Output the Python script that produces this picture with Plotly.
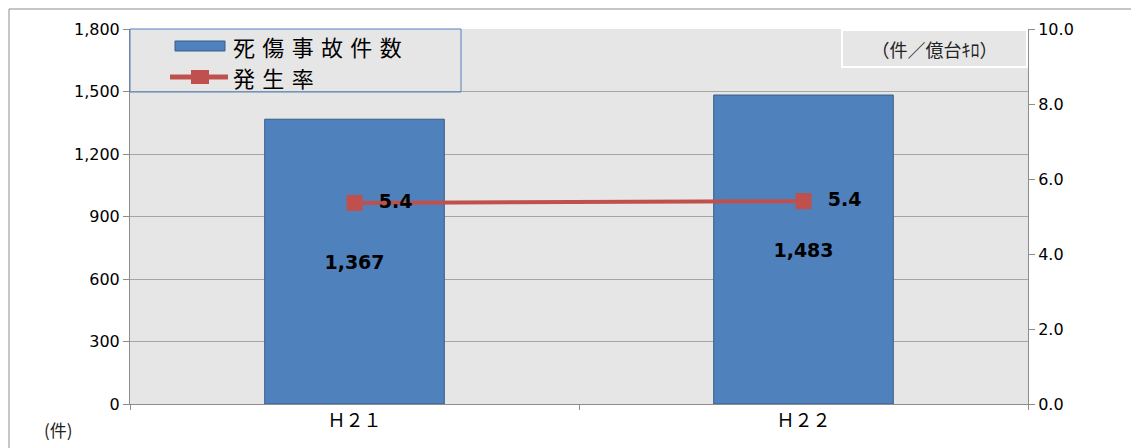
import plotly.graph_objects as go

categories = ["Ｈ２１", "Ｈ２２"]
accidents = [1367, 1483]
rate = [5.36, 5.41]
rate_labels = ["  5.4", "  5.4"]
left_ticks = [0, 300, 600, 900, 1200, 1500, 1800]
right_ticks = [0, 2, 4, 6, 8, 10]
legend_names = ["死傷事故件数", "発生率"]

JP = "Noto Sans CJK JP"
NUM = "DejaVu Sans"
BLUE = "#4f81bd"
RED = "#c0504d"

fig = go.Figure()
fig.add_trace(go.Bar(
    x=categories, y=accidents, name=legend_names[0],
    marker=dict(color=BLUE, line=dict(color="#385d8a", width=1)),
    width=0.4,
    texttemplate="%{y:,}", textposition="inside", insidetextanchor="middle",
    textfont=dict(family=NUM, size=19, color="black", weight="bold"),
))
fig.add_trace(go.Scatter(
    x=categories, y=rate, name=legend_names[1], yaxis="y2",
    mode="lines+markers+text",
    line=dict(color=RED, width=4),
    marker=dict(symbol="square", size=16, color=RED),
    text=rate_labels, textposition="middle right",
    textfont=dict(family=NUM, size=19, color="black", weight="bold"),
))

fig.update_layout(
    width=1131, height=448,
    margin=dict(l=130, r=103, t=29, b=44),
    paper_bgcolor="white", plot_bgcolor="#e6e6e6",
    showlegend=False,
    xaxis=dict(showline=True, linecolor="#8c8c8c", ticks="outside",
               tickson="boundaries", ticklen=5, tickcolor="#8c8c8c",
               tickfont=dict(family=JP, size=18, color="black"),
               showgrid=False),
    yaxis=dict(range=[0, 1800], tickvals=left_ticks, tickformat=",",
               showgrid=True, gridcolor="#a6a6a6", gridwidth=1,
               showline=True, linecolor="#8c8c8c", ticks="outside",
               ticklen=6, tickcolor="#8c8c8c", zeroline=False,
               tickfont=dict(family=NUM, size=16, color="black")),
    yaxis2=dict(range=[0, 10], tickvals=right_ticks, tickformat=".1f",
                overlaying="y", side="right", showgrid=False,
                showline=True, linecolor="#8c8c8c", ticks="outside",
                ticklen=6, tickcolor="#8c8c8c", zeroline=False,
                tickfont=dict(family=NUM, size=16, color="black")),
)

def px(x):
    return (x - 130) / 898

def py(y):
    return (404 - y) / 375

# manual legend
fig.add_shape(type="rect", xref="paper", yref="paper",
              x0=px(130), x1=px(461), y0=py(92), y1=py(29),
              line=dict(color=BLUE, width=1))
fig.add_shape(type="rect", xref="paper", yref="paper",
              x0=px(175), x1=px(225), y0=py(51), y1=py(41),
              line=dict(color="#385d8a", width=1), fillcolor=BLUE)
fig.add_shape(type="line", xref="paper", yref="paper",
              x0=px(170), x1=px(228), y0=py(77), y1=py(77),
              line=dict(color=RED, width=5))
fig.add_shape(type="rect", xref="paper", yref="paper",
              x0=px(191), x1=px(209), y0=py(84), y1=py(70),
              line=dict(color=RED, width=0), fillcolor=RED)
for name, yy in zip(legend_names, [46, 77]):
    fig.add_annotation(xref="paper", yref="paper", x=px(231), y=py(yy),
                       xanchor="left", yanchor="middle", showarrow=False,
                       text="\u2004".join(name),
                       font=dict(family=JP, size=22, color="black"))

# unit box
fig.add_annotation(xref="paper", yref="paper", x=1, y=1, xanchor="right", yanchor="top",
                   text="（件／億台ｷﾛ）", showarrow=False, width=181, height=33,
                   bordercolor="white", borderwidth=2, bgcolor="#e6e6e6",
                   font=dict(family=JP, size=18, color="#222"))
# unit label left
fig.add_annotation(xref="paper", yref="paper", x=px(58), y=py(430),
                   xanchor="center", yanchor="middle", text="(件)", showarrow=False,
                   font=dict(family=JP, size=17, color="#222"))
# outer frame lines
fig.add_shape(type="line", xref="paper", yref="paper",
              x0=px(9), x1=px(9), y0=py(448), y1=py(9),
              line=dict(color="#8c8c8c", width=1))
fig.add_shape(type="line", xref="paper", yref="paper",
              x0=px(9), x1=px(1131), y0=py(9), y1=py(9),
              line=dict(color="#8c8c8c", width=1))

fig.write_html("out.html", config={"displayModeBar": False},
               post_script="document.body.style.margin='0';")
